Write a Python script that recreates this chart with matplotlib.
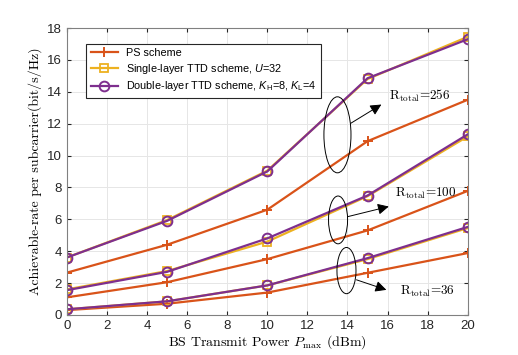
import numpy as np
import matplotlib
matplotlib.use("Agg")
import matplotlib.pyplot as plt
from matplotlib.patches import Ellipse
from matplotlib.font_manager import FontProperties

plt.rcParams['mathtext.fontset'] = 'cm'
plt.rcParams['font.family'] = ['Liberation Sans', 'DejaVu Sans']
plt.rcParams['mathtext.rm'] = 'Liberation Sans'
plt.rcParams['mathtext.it'] = 'Liberation Sans:italic'

# transmit power (dBm)
p_max = [0, 5, 10, 15, 20]

# R_total = 256
ps_256 = [2.65, 4.4, 6.6, 10.9, 13.5]
single_256 = [3.6, 5.95, 9.05, 14.8, 17.45]
double_256 = [3.6, 5.9, 9.0, 14.85, 17.3]
# R_total = 100
ps_100 = [1.1, 2.05, 3.5, 5.3, 7.78]
single_100 = [1.6, 2.75, 4.6, 7.45, 11.2]
double_100 = [1.55, 2.7, 4.8, 7.49, 11.33]
# R_total = 36
ps_36 = [0.3, 0.7, 1.4, 2.64, 3.88]
single_36 = [0.35, 0.85, 1.85, 3.5, 5.45]
double_36 = [0.35, 0.85, 1.85, 3.56, 5.52]

labels = ['PS scheme', r'Single-layer TTD scheme, $\mathit{U}$=32',
          r'Double-layer TTD scheme, $\mathit{K}_{\mathrm{H}}$=8, $\mathit{K}_{\mathrm{L}}$=4']
c_ps, c_single, c_double = '#D95319', '#EDB120', '#7E2F8E'

fig = plt.figure(figsize=(5.18, 3.55), dpi=100)
ax = fig.add_axes([0.129, 0.113, 0.774, 0.808])

groups = [(ps_256, single_256, double_256), (ps_100, single_100, double_100), (ps_36, single_36, double_36)]
for k, (ps, single, double) in enumerate(groups):
    l1, = ax.plot(p_max, ps, color=c_ps, marker='+', ms=7.5, mew=1.4, lw=1.6)
    l2, = ax.plot(p_max, single, color=c_single, marker='s', ms=5.5, mfc='none', mew=1.3, lw=1.6)
    l3, = ax.plot(p_max, double, color=c_double, marker='o', ms=7, mfc='none', mew=1.4, lw=1.6)
    if k == 0:
        handles = [l1, l2, l3]

legfont = FontProperties(family='Liberation Sans', size=7.8, math_fontfamily='custom')
leg = ax.legend(handles, labels, loc='upper left', bbox_to_anchor=(0.035, 0.965),
                prop=legfont, frameon=True, fancybox=False, edgecolor='#262626',
                framealpha=1, borderpad=0.4, handlelength=2.5, labelspacing=0.35)
leg.get_frame().set_linewidth(0.8)

# ellipses, arrows and R_total annotations
ell = [(13.5, 11.3, 1.35, 4.77), (13.53, 5.96, 0.95, 3.0), (13.95, 2.78, 0.95, 2.9)]
arrows = [((14.16, 12.02), (15.69, 13.2)), ((14.03, 6.17), (16.06, 6.8)), ((14.45, 2.2), (15.94, 1.57))]
texts = [(16.06, 13.76, '256'), (16.36, 7.63, '100'), (16.64, 1.5, '36')]
for (cx, cy, w, h), (a0, a1), (tx, ty, t) in zip(ell, arrows, texts):
    ax.add_patch(Ellipse((cx, cy), w, h, fill=False, edgecolor='black', lw=0.7, zorder=5))
    ax.annotate('', xy=a1, xytext=a0,
                arrowprops=dict(arrowstyle='-|>,head_length=0.6,head_width=0.3',
                                color='black', lw=0.7, mutation_scale=11, shrinkA=0, shrinkB=0))
    ax.text(tx, ty, r'$\mathrm{R}_{\mathrm{total}}$=' + t, family='cmr10', fontsize=9.5,
            va='center', ha='left')

ax.set_xlim(0, 20)
ax.set_ylim(0, 18)
ax.set_xticks(np.arange(0, 21, 2))
ax.set_yticks(np.arange(0, 19, 2))
ax.tick_params(direction='in', top=True, right=True, labelsize=9.5, colors='#262626', length=3)
ax.grid(True, color='#e6e6e6', lw=0.7)
ax.set_axisbelow(True)
for s in ax.spines.values():
    s.set_color('#808080')
    s.set_linewidth(0.8)

ax.set_xlabel(r'BS Transmit Power $P_{\max}$ (dBm)', family='cmr10', fontsize=10, labelpad=1)
ax.set_ylabel('Achievable-rate per subcarrier(bit/s/Hz)', family='cmr10', fontsize=10, labelpad=4)

fig.savefig('out.png', dpi=100)
